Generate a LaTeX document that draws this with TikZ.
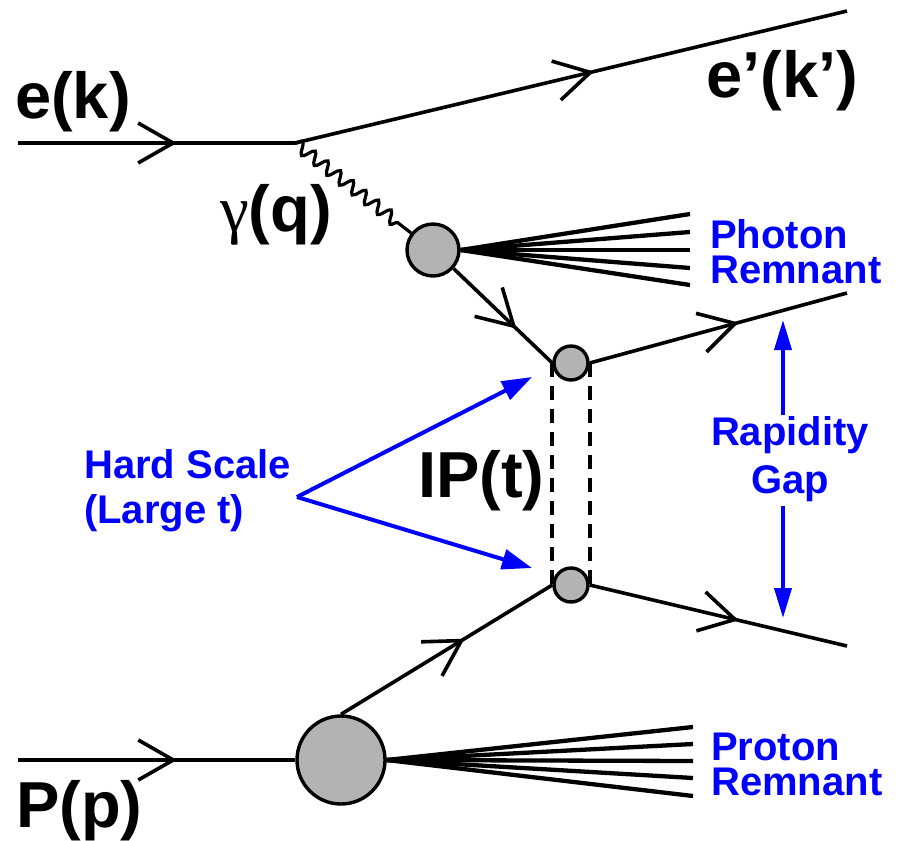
\documentclass[tikz,border=0pt]{standalone}
\usepackage{fontspec}
\setmainfont{Liberation Sans}
\newfontfamily\grk{Liberation Serif}
\usetikzlibrary{arrows.meta,decorations.markings,decorations.pathmorphing}
\definecolor{lblue}{RGB}{0,0,255}
\definecolor{blobgray}{RGB}{179,179,179}
\tikzset{
  fline/.style={line width=3.6pt},
  chev/.style={postaction={decorate,decoration={markings,
     mark=at position #1 with {\draw[line width=3.6pt,line join=miter] (-35pt,20pt) -- (0pt,0pt) -- (-35pt,-20pt);}}}},
  blob/.style={circle,draw,line width=3.4pt,fill=blobgray,inner sep=0pt},
  fan/.style={line width=4.3pt},
  photon/.style={line width=3.2pt,decorate,decoration={snake,amplitude=6pt,segment length=16pt,post length=10pt}},
  lab/.style={font=\fontsize{65}{70}\selectfont\bfseries,inner sep=0pt},
  blab/.style={text=lblue,font=\fontsize{40}{35}\selectfont\bfseries,inner sep=0pt},
  bluearr/.style={draw=lblue,line width=4pt,-{Triangle[length=30pt,width=20pt]}},
  gaparr/.style={draw=lblue,line width=3.8pt,-{Triangle[length=30pt,width=17pt]}},
  pomdash/.style={line width=3.8pt,dash pattern=on 14pt off 9pt}
}
\begin{document}
\begin{tikzpicture}[x=1pt,y=-1pt]
\useasboundingbox (0,0) rectangle (903,841);
% coordinates
\coordinate (ein) at (18,143);
\coordinate (v) at (295,143);
\coordinate (eout) at (847,11);
\coordinate (pin) at (18,760);
\coordinate (uout) at (847,293);
\coordinate (lout) at (847,646);
% blobs
\node[blob,minimum size=52pt] (phb) at (433,250) {};
\node[blob,minimum size=34pt] (cu) at (571,363) {};
\node[blob,minimum size=34pt] (cl) at (571,585) {};
\node[blob,minimum size=88pt] (pb) at (341,760) {};
% electron
\draw[fline,chev=0.56] (ein) -- (v);
\draw[fline,chev=0.535] (v) -- (eout);
% photon
\draw[photon] (v) -- (phb);
% photon remnant fan
\foreach \i/\y in {1/214,2/232,3/250,4/268,5/285}{
  \coordinate (pr\i) at (690,\y);
  \draw[fan] (phb.east) -- (pr\i);
}
% proton
\draw[fline,chev=0.56] (pin) -- (pb.west);
\foreach \i/\y in {1/727,2/744,3/761,4/778,5/796}{
  \coordinate (qr\i) at (693,\y);
  \draw[fan] (pb.east) -- (qr\i);
}
% internal lines
\draw[fline,chev=0.61] (phb.-42) -- (cu.west);
\draw[fline,chev=0.57] (pb.north) -- (cl.west);
\draw[fline,chev=0.565] (cu.east) -- (uout);
\draw[fline,chev=0.565] (cl.east) -- (lout);
% pomeron
\draw[pomdash] (cu.west) -- (cl.west);
\draw[pomdash] (cu.east) -- (cl.east);
% labels
\node[lab,anchor=base west] (ek) at (15,118) {e(k)};
\node[lab,anchor=base west] (ekp) at (706,97) {e’(k’)};
\node[lab,anchor=base west] (gq) at (220,231) {{\grk\mdseries γ}(q)};
\node[lab,anchor=base west] (ipt) at (418,497) {IP(t)};
\node[lab,anchor=base west] (pp) at (16,827) {P(p)};
% blue labels
\node[blab,anchor=base west,align=left] (phr) at (710,283) {Photon\\Remnant};
\node[blab,anchor=base west,align=left] (prr) at (711,795) {Proton\\Remnant};
\node[blab,anchor=base west,align=left,font=\fontsize{40}{45}\selectfont\bfseries] (hsl) at (84,523) {Hard Scale\\(Large t)};
\node[blab,anchor=base,align=center,font=\fontsize{40}{48}\selectfont\bfseries] (rg) at (790,493) {Rapidity\\Gap};
% hard-scale arrows
\coordinate (hs) at (297,497);
\coordinate (hu) at (532,377);
\coordinate (hl) at (532,568);
\draw[bluearr] (hs) -- (hu);
\draw[bluearr] (hs) -- (hl);
% rapidity gap arrows
\coordinate (gtop) at (783,320);
\coordinate (gbot) at (783,618);
\coordinate (g1) at (783,415);
\coordinate (g2) at (783,506);
\draw[gaparr] (g1) -- (gtop);
\draw[gaparr] (g2) -- (gbot);
\end{tikzpicture}
\end{document}
